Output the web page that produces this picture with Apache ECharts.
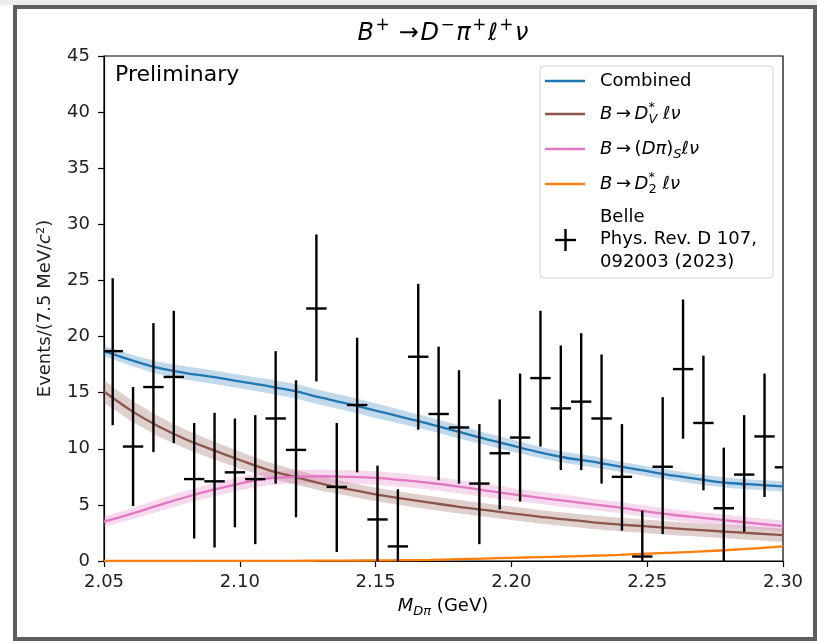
<!DOCTYPE html>
<html>
<head>
<meta charset="utf-8">
<script src="https://cdn.jsdelivr.net/npm/echarts@6/dist/echarts.min.js"></script>
<style>
  html, body { margin: 0; padding: 0; background: #ffffff; }
  #chart { width: 817px; height: 641px; }
</style>
</head>
<body>
<div id="chart"></div>
<script>
// ---- Measured spectrum: B+ -> D- pi+ l+ nu (Belle, PRD 107, 092003) ----
const binCenters = [2.0532, 2.0607, 2.0682, 2.0757, 2.0832, 2.0907, 2.0982, 2.1057, 2.1132, 2.1207,
                    2.1282, 2.1357, 2.1432, 2.1507, 2.1582, 2.1657, 2.1732, 2.1807, 2.1882, 2.1957,
                    2.2032, 2.2107, 2.2182, 2.2257, 2.2332, 2.2407, 2.2482, 2.2557, 2.2632, 2.2707,
                    2.2782, 2.2857, 2.2932, 2.3007];
const binHalfWidth = 0.00375;
const counts = [18.7, 10.2, 15.5, 16.4, 7.3, 7.1, 7.9, 7.3, 12.7, 9.9,
                22.5, 6.6, 13.9, 3.7, 1.3, 18.2, 13.1, 11.9, 6.9, 9.6,
                11.0, 16.3, 13.6, 14.2, 12.7, 7.5, 0.4, 8.4, 17.1, 12.3,
                4.7, 7.7, 11.1, 8.35];
const countsLow = [12.1, 4.9, 9.7, 10.5, 2.0, 1.2, 3.0, 1.5, 6.9, 3.9,
                   16.0, 0.8, 7.9, -1.1, -3.7, 11.7, 7.2, 6.9, 1.5, 4.6,
                   5.3, 10.2, 8.1, 8.1, 6.9, 2.7, -3.7, 2.4, 10.9, 6.3,
                   -0.7, 2.6, 5.7, 2.7];
const countsHigh = [25.2, 15.5, 21.2, 22.3, 12.3, 13.2, 12.7, 13.0, 18.7, 16.1,
                    29.1, 12.3, 19.9, 8.5, 6.4, 24.7, 19.1, 17.0, 12.2, 14.4,
                    16.7, 22.3, 19.2, 20.3, 18.4, 12.2, 4.5, 14.6, 23.3, 18.3,
                    10.1, 13.0, 16.7, 14.0];

// ---- Fit model curves sampled on a mass grid (GeV) ----
const massGrid = [2.05, 2.06, 2.07, 2.08, 2.09, 2.10, 2.11, 2.12, 2.13, 2.14, 2.15, 2.16, 2.17,
                  2.18, 2.19, 2.20, 2.21, 2.22, 2.23, 2.24, 2.25, 2.26, 2.27, 2.28, 2.29, 2.30];
const combined = [18.7, 17.9, 17.2, 16.75, 16.4, 16.0, 15.6, 15.15, 14.55, 14.0, 13.4, 12.8, 12.2,
                  11.55, 10.9, 10.3, 9.7, 9.2, 8.85, 8.4, 8.0, 7.6, 7.25, 6.95, 6.8, 6.65];
const combinedErr = [0.45, 0.5, 0.55, 0.6, 0.6, 0.6, 0.62, 0.65, 0.65, 0.65, 0.65, 0.62, 0.6,
                     0.6, 0.55, 0.55, 0.5, 0.5, 0.5, 0.45, 0.45, 0.45, 0.45, 0.45, 0.45, 0.45];
const dvStar = [15.1, 13.4, 12.0, 10.85, 9.9, 9.0, 8.15, 7.5, 6.9, 6.4, 5.93, 5.55, 5.2,
                4.85, 4.55, 4.25, 3.95, 3.7, 3.45, 3.25, 3.08, 2.9, 2.75, 2.6, 2.45, 2.3];
const dvStarErr = [1.0, 0.95, 0.9, 0.85, 0.8, 0.75, 0.7, 0.65, 0.65, 0.6, 0.6, 0.6, 0.6,
                   0.6, 0.6, 0.6, 0.6, 0.6, 0.6, 0.6, 0.6, 0.6, 0.6, 0.6, 0.6, 0.6];
const dpiS = [3.5, 4.2, 4.95, 5.68, 6.33, 6.9, 7.35, 7.5, 7.55, 7.5, 7.4, 7.2, 6.95,
              6.65, 6.3, 5.95, 5.65, 5.35, 5.05, 4.75, 4.4, 4.1, 3.85, 3.6, 3.35, 3.1];
const dpiSErr = [0.45, 0.5, 0.55, 0.55, 0.6, 0.6, 0.6, 0.6, 0.6, 0.6, 0.6, 0.6, 0.6,
                 0.6, 0.6, 0.55, 0.55, 0.55, 0.5, 0.5, 0.5, 0.5, 0.5, 0.5, 0.5, 0.5];
const d2Star = [0, 0, 0, 0, 0.01, 0.01, 0.02, 0.02, 0.03, 0.04, 0.05, 0.07, 0.1,
                0.16, 0.22, 0.28, 0.34, 0.4, 0.47, 0.55, 0.66, 0.75, 0.85, 0.98, 1.13, 1.3];
const d2StarErr = [0.02, 0.02, 0.02, 0.02, 0.02, 0.02, 0.02, 0.02, 0.02, 0.03, 0.03, 0.03, 0.03,
                   0.04, 0.04, 0.05, 0.05, 0.05, 0.06, 0.06, 0.07, 0.07, 0.08, 0.08, 0.09, 0.1];

// ---- Axis ticks ----
const xTicks = { min: 2.05, max: 2.30, step: 0.05 };
const yTicks = { min: 0, max: 45, step: 5 };

const FONT = 'DejaVu Sans';
const C_BLUE = '#1f77b4', C_BROWN = '#8c564b', C_PINK = '#e377c2', C_ORANGE = '#ff7f0e';

// Text measurement for hand-set math typesetting
const mctx = document.createElement('canvas').getContext('2d');
function textWidth(t, size, italic) {
  mctx.font = (italic ? 'italic ' : '') + size + 'px "' + FONT + '"';
  return mctx.measureText(t).width;
}

// Lays out a run of math pieces (italic symbols, super/subscripts) as graphic texts
function mathRow(parts, size, x, y, anchor, gap) {
  const small = Math.round(size * 0.7);
  const pad = gap || 0;
  let cx = 0, scriptStart = null, scriptW = 0;
  const items = [];
  parts.forEach(p => {
    if (p.sup || p.sub) {
      const w = textWidth(p.t, small, p.i);
      let px;
      if (p.stack && scriptStart !== null) {
        px = scriptStart;
        cx = scriptStart + Math.max(scriptW, w) + pad;
      } else {
        px = cx; scriptStart = cx; scriptW = w; cx += w + pad;
      }
      items.push({ t: p.t, x: px, dy: p.sup ? -0.36 * size : 0.3 * size, fs: small, i: p.i });
    } else {
      const w = textWidth(p.t, size, p.i);
      items.push({ t: p.t, x: cx, dy: 0, fs: size, i: p.i });
      cx += w + pad;
      scriptStart = null;
    }
  });
  cx -= pad;
  const x0 = anchor === 'center' ? x - cx / 2 : x;
  return items.map(it => ({
    type: 'text', x: x0 + it.x, y: y + it.dy, z: 100,
    style: {
      text: it.t, fontSize: it.fs, fontFamily: FONT,
      fontStyle: it.i ? 'italic' : 'normal', fill: '#000',
      align: 'left', verticalAlign: 'middle'
    }
  }));
}

const I = t => ({ t, i: true });
const R = t => ({ t });
const SUP = (t, i) => ({ t, sup: true, i });
const SUB = (t, i, stack) => ({ t, sub: true, i, stack });
const ARROW = R('\u2009\u2192\u2009');

const titleParts = [I('B'), SUP('+'), R(' \u2192'), I('D'), SUP('\u2212'), I('\u03c0'), SUP('+'),
                    I('\u2113'), SUP('+'), I('\u03bd')];
const xNameParts = [I('M'), SUB('D\u03c0', true), R(' (GeV)')];
const legendRows = [
  { color: C_BLUE, parts: [R('Combined')] },
  { color: C_BROWN, parts: [I('B'), ARROW, I('D'), SUP('*'), SUB('V', true, true), R(' '), I('\u2113'), I('\u03bd')] },
  { color: C_PINK, parts: [I('B'), ARROW, R('('), I('D'), I('\u03c0'), R(')'), SUB('S', true), I('\u2113'), I('\u03bd')] },
  { color: C_ORANGE, parts: [I('B'), ARROW, I('D'), SUP('*'), SUB('2', false, true), R(' '), I('\u2113'), I('\u03bd')] }
];
const dataLegendLines = ['Belle', 'Phys. Rev. D 107,', '092003 (2023)'];

// ---- Chart layout ----
const GRID = { left: 104, top: 56, right: 34, bottom: 80 };
const FS = 18;

function bandSeries(center, err, color) {
  return {
    type: 'custom',
    coordinateSystem: 'cartesian2d',
    data: [[massGrid[0], center[0]]],
    clip: true,
    z: 1,
    silent: true,
    renderItem: function (params, api) {
      const pts = [];
      for (let k = 0; k < massGrid.length; k++) pts.push(api.coord([massGrid[k], center[k] + err[k]]));
      for (let k = massGrid.length - 1; k >= 0; k--) pts.push(api.coord([massGrid[k], center[k] - err[k]]));
      return { type: 'polygon', shape: { points: pts, smooth: 0 }, style: { fill: color, stroke: null } };
    }
  };
}

function curveSeries(values, color) {
  return {
    type: 'line',
    data: massGrid.map((x, k) => [x, values[k]]),
    smooth: 0.35,
    showSymbol: false,
    symbol: 'none',
    lineStyle: { color, width: 2.3 },
    z: 2,
    silent: true
  };
}

const errorBarSeries = {
  type: 'custom',
  coordinateSystem: 'cartesian2d',
  data: binCenters.map((x, k) => [x, counts[k], countsLow[k], countsHigh[k]]),
  clip: true,
  z: 5,
  silent: true,
  renderItem: function (params, api) {
    const cs = params.coordSys;
    const clampX = v => Math.max(cs.x, Math.min(cs.x + cs.width, v));
    const clampY = v => Math.max(cs.y, Math.min(cs.y + cs.height, v));
    const x = api.value(0), y = api.value(1), lo = api.value(2), hi = api.value(3);
    const pTop = api.coord([x, hi]);
    const pBot = api.coord([x, lo]);
    const pL = api.coord([x - binHalfWidth, y]);
    const pR = api.coord([x + binHalfWidth, y]);
    const st = { stroke: '#000', lineWidth: 2.4 };
    const children = [];
    if (pTop[0] <= cs.x + cs.width) {
      children.push({ type: 'line', shape: { x1: pTop[0], y1: clampY(pTop[1]), x2: pBot[0], y2: clampY(pBot[1]) }, style: st });
    }
    children.push({ type: 'line', shape: { x1: clampX(pL[0]), y1: pL[1], x2: clampX(pR[0]), y2: pR[1] }, style: st });
    return { type: 'group', children };
  }
};

// ---- Decorations: frame, legend, annotations ----
const graphics = [];
graphics.push({ type: 'rect', z: -10, shape: { x: 0, y: 0, width: 817, height: 5 }, style: { fill: '#ececec' } });
graphics.push({ type: 'rect', z: 50, shape: { x: 15, y: 7, width: 800, height: 632 },
                style: { fill: null, stroke: '#5e5e5e', lineWidth: 4 } });
graphics.push(...mathRow(titleParts, 24, 443, 34, 'center', 1.5));
graphics.push(...mathRow(xNameParts, FS, 443, 606, 'center'));
graphics.push({ type: 'text', x: 115, y: 75, z: 100,
                style: { text: 'Preliminary', fontSize: 22, fontFamily: FONT, fill: '#000', align: 'left', verticalAlign: 'middle' } });

// Legend box
const LG = { x: 540, y: 66, w: 233, h: 212 };
graphics.push({ type: 'rect', z: 90, shape: { x: LG.x, y: LG.y, width: LG.w, height: LG.h, r: 4 },
                style: { fill: 'rgba(255,255,255,0.85)', stroke: '#d3d3d3', lineWidth: 1 } });
const rowY = [81, 114, 149, 184];
legendRows.forEach((row, k) => {
  graphics.push({ type: 'line', z: 95, shape: { x1: 545, y1: rowY[k], x2: 585, y2: rowY[k] },
                  style: { stroke: row.color, lineWidth: 2.4 } });
  graphics.push(...mathRow(row.parts, FS, 600, rowY[k], 'left'));
});
const dataRowY = [217, 239, 262];
dataLegendLines.forEach((t, k) => {
  graphics.push({ type: 'text', x: 600, y: dataRowY[k], z: 100,
                  style: { text: t, fontSize: FS, fontFamily: FONT, fill: '#000', align: 'left', verticalAlign: 'middle' } });
});
graphics.push({ type: 'line', z: 95, shape: { x1: 555, y1: 240, x2: 576, y2: 240 }, style: { stroke: '#000', lineWidth: 2.4 } });
graphics.push({ type: 'line', z: 95, shape: { x1: 565.5, y1: 229, x2: 565.5, y2: 251 }, style: { stroke: '#000', lineWidth: 2.4 } });

const chart = echarts.init(document.getElementById('chart'), null, { renderer: 'canvas' });
chart.setOption({
  animation: false,
  backgroundColor: '#ffffff',
  textStyle: { fontFamily: FONT },
  grid: { left: GRID.left, top: GRID.top, right: GRID.right, bottom: GRID.bottom,
          show: true, borderColor: '#000', borderWidth: 1.2, backgroundColor: 'transparent' },
  xAxis: {
    type: 'value', min: xTicks.min, max: xTicks.max, interval: xTicks.step,
    axisLine: { show: true, onZero: false, lineStyle: { color: '#000', width: 1.2 } },
    axisTick: { show: true, inside: false, length: 6, lineStyle: { color: '#000', width: 1.2 } },
    axisLabel: { color: '#222', fontSize: FS, fontFamily: FONT, margin: 12,
                 formatter: v => v.toFixed(2) },
    splitLine: { show: false }
  },
  yAxis: {
    type: 'value', min: yTicks.min, max: yTicks.max, interval: yTicks.step,
    name: 'Events/(7.5 MeV/{i|c}\u00b2)',
    nameLocation: 'middle', nameGap: 50, nameRotate: 90,
    nameTextStyle: { fontSize: FS, fontFamily: FONT, color: '#222',
                     rich: { i: { fontSize: FS, fontFamily: FONT, fontStyle: 'italic', color: '#222' } } },
    axisLine: { show: true, onZero: false, lineStyle: { color: '#000', width: 1.2 } },
    axisTick: { show: true, inside: false, length: 6, lineStyle: { color: '#000', width: 1.2 } },
    axisLabel: { color: '#222', fontSize: FS, fontFamily: FONT, margin: 14 },
    splitLine: { show: false }
  },
  graphic: graphics,
  series: [
    bandSeries(combined, combinedErr, 'rgba(31,119,180,0.28)'),
    bandSeries(dvStar, dvStarErr, 'rgba(140,86,75,0.28)'),
    bandSeries(dpiS, dpiSErr, 'rgba(227,119,194,0.28)'),
    bandSeries(d2Star, d2StarErr, 'rgba(255,127,14,0.28)'),
    curveSeries(combined, C_BLUE),
    curveSeries(dvStar, C_BROWN),
    curveSeries(dpiS, C_PINK),
    curveSeries(d2Star, C_ORANGE),
    errorBarSeries
  ]
});
</script>
</body>
</html>
